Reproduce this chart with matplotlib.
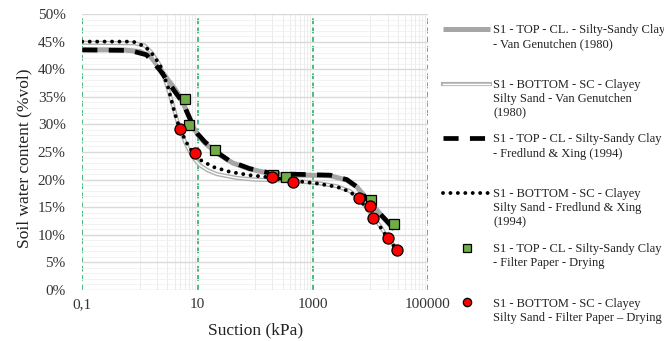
import numpy as np
import matplotlib
matplotlib.use("Agg")
from matplotlib import pyplot as plt
from matplotlib.lines import Line2D
import matplotlib.patheffects as pe
from matplotlib.ticker import FixedLocator, FixedFormatter, FuncFormatter, NullFormatter

plt.rcParams['font.family'] = ['Liberation Serif', 'DejaVu Serif']

# Van Genuchten / Fredlund & Xing curves (suction kPa, theta %vol)
top_vg_s = [0.1, 0.5, 1.0, 1.5, 2.2, 3.1, 4.2, 5.0, 6.0, 7.4, 8.4, 10, 13.5, 21.5, 41,
            81, 181, 404, 900, 2000, 3900, 5800, 8100, 12900, 19300, 26000]
top_vg_t = [43.5, 43.5, 43.2, 42.4, 40.2, 38.0, 36.2, 34.9, 33.2, 31.0, 29.6, 28.2, 26.6,
            24.8, 23.0, 21.9, 21.1, 20.8, 20.8, 20.7, 19.9, 18.7, 16.9, 14.5, 12.4, 11.0]

bot_vg_s = [0.1, 0.8, 1.2, 1.6, 2.2, 3.0, 3.8, 4.4, 5.0, 6.2, 7.4, 9.0, 11, 15, 21.5,
            48, 100, 400, 1170, 2610, 4440, 6630, 9880, 14700, 22000, 30300]
bot_vg_t = [44.8, 44.7, 44.3, 43.0, 40.8, 36.8, 33.2, 30.8, 29.0, 26.6, 25.0, 23.6, 22.6,
            21.7, 21.0, 20.3, 20.0, 19.8, 19.4, 18.8, 17.9, 16.4, 14.0, 11.6, 8.8, 7.3]

top_fx_s = [0.1, 0.67, 1.3, 2.2, 3.1, 4.0, 5.0, 6.2, 7.4, 8.4, 10, 13.5, 21.5, 37, 80,
            180, 400, 900, 2000, 3900, 5800, 8100, 12900, 19300, 24000]
top_fx_t = [43.5, 43.4, 42.6, 39.9, 37.7, 36.0, 34.6, 32.8, 31.0, 29.6, 28.3, 26.8, 25.0,
            23.3, 22.0, 21.2, 21.0, 20.9, 20.8, 20.0, 18.7, 16.8, 14.4, 12.5, 11.4]

bot_fx_s = [0.1, 0.76, 1.23, 1.6, 2.23, 3.07, 3.76, 4.35, 5.0, 6.2, 7.4, 9.1, 11, 18.6,
            36.6, 81, 181, 404, 1170, 2610, 4440, 6630, 9880, 14700, 22000, 30300]
bot_fx_t = [45.0, 45.0, 44.1, 42.9, 40.8, 36.8, 33.2, 30.8, 29.2, 27.0, 25.6, 24.6, 23.6,
            22.3, 21.4, 20.8, 20.4, 19.9, 19.3, 18.7, 17.8, 16.3, 13.9, 11.5, 8.7, 7.2]

# filter paper measurements
top_fp_s = [6.1, 7.1, 20, 204, 343, 10200, 25700]
top_fp_t = [34.6, 29.9, 25.4, 20.8, 20.5, 16.3, 12.0]
bot_fp_s = [5.0, 9.1, 200, 457, 6300, 9800, 11000, 20000, 29500]
bot_fp_t = [29.2, 24.8, 20.4, 19.6, 16.7, 15.2, 13.0, 9.4, 7.2]

x_ticks = [0.1, 10, 1000, 100000]
x_tick_labels = ["0,1", "10", "1000", "100000"]

labels = [
    "S1 - TOP - CL. - Silty-Sandy Clay\n- Van Genutchen (1980)",
    "S1 - BOTTOM - SC - Clayey\nSilty Sand - Van Genutchen\n(1980)",
    "S1 - TOP - CL - Silty-Sandy Clay\n- Fredlund & Xing (1994)",
    "S1 - BOTTOM - SC - Clayey\nSilty Sand - Fredlund & Xing\n(1994)",
    "S1 - TOP - CL - Silty-Sandy Clay\n- Filter Paper - Drying",
    "S1 - BOTTOM - SC - Clayey\nSilty Sand - Filter Paper \u2013 Drying",
]

W, H = 664, 341
fig = plt.figure(figsize=(W / 100, H / 100), dpi=100)
ax = fig.add_axes([82.3 / W, 1 - 290 / H, (428 - 82.3) / W, (290 - 14) / H])

gray = '#a6a6a6'
vg_top_style = dict(color=gray, lw=3.6, solid_capstyle='butt')
vg_bot_style = dict(color='white', lw=1.0,
                    path_effects=[pe.Stroke(linewidth=3.0, foreground='#b0b0b0'), pe.Normal()])
fx_top_style = dict(color='black', lw=3.4, linestyle=(0, (3.2, 2.4)), dash_capstyle='butt')
fx_bot_style = dict(color='black', lw=2.8, linestyle=(0, (0.01, 1.9)), dash_capstyle='round')
sq_style = dict(marker='s', ms=7.5, mfc='#70ad47', mec='black', mew=0.9, ls='none')
ci_style = dict(marker='o', ms=8, mfc='#ff0000', mec='black', mew=0.9, ls='none')

ax.plot(top_vg_s, top_vg_t, zorder=3, **vg_top_style)
ax.plot(bot_vg_s, bot_vg_t, zorder=3, **vg_bot_style)
ax.plot(top_fx_s, top_fx_t, zorder=4, **fx_top_style)
ax.plot(bot_fx_s, bot_fx_t, zorder=4, **fx_bot_style)
ax.plot(top_fp_s, top_fp_t, zorder=5, **sq_style)
ax.plot(bot_fp_s, bot_fp_t, zorder=6, **ci_style)

ax.set_xscale('log')
ax.set_xlim(0.1, 100000)
ax.set_ylim(0, 50)

# grid: major green dashed verticals, light gray minor
ax.xaxis.set_major_locator(FixedLocator(x_ticks))
ax.xaxis.set_major_formatter(FixedFormatter(x_tick_labels))
minor_x = [k * 10 ** e for e in (0, 2, 4) for k in range(1, 10)]
ax.xaxis.set_minor_locator(FixedLocator(minor_x))
ax.xaxis.set_minor_formatter(NullFormatter())
ax.yaxis.set_major_locator(FixedLocator(np.arange(0, 51, 5)))
ax.yaxis.set_minor_locator(FixedLocator(np.arange(0, 51, 1)))
ax.yaxis.set_major_formatter(FuncFormatter(lambda v, p: f"{v:.0f}%"))
ax.yaxis.set_minor_formatter(NullFormatter())

ax.grid(True, which='major', axis='x', color='#2bb06a', lw=1.2, linestyle=(0, (3.5, 2)), zorder=1)
ax.grid(True, which='minor', axis='x', color='#ececec', lw=0.7, zorder=0)
ax.grid(True, which='major', axis='y', color='#d9d9d9', lw=1.0, zorder=0)
ax.grid(True, which='minor', axis='y', color='#f0f0f0', lw=0.6, zorder=0)
ax.set_axisbelow(True)

for s in ax.spines.values():
    s.set_visible(False)
ax.tick_params(which='both', length=0)
ax.tick_params(axis='x', labelsize=11, pad=6)
ax.tick_params(axis='y', labelsize=11, pad=12)
for lab in ax.get_xticklabels() + ax.get_yticklabels():
    lab.set_color('#333333')

ax.set_xlabel("Suction (kPa)", fontsize=12.5, color='#222222')
ax.xaxis.set_label_coords(0.5, -0.118)
ax.set_ylabel("Soil water content (%vol)", fontsize=12.5, color='#222222')
ax.yaxis.set_label_coords(-0.145, 0.478)

# legend drawn by hand so every entry keeps the same spacing
styles = [vg_top_style, vg_bot_style, fx_top_style, fx_bot_style, sq_style, ci_style]
base0, step, line_h = 33, 54.7, 14.3
for i, (lab, st) in enumerate(zip(labels, styles)):
    b = base0 + i * step
    yc = 1 - (b - 4.2) / H
    if i < 4:
        ln = Line2D([443 / W, 490 / W], [yc, yc], transform=fig.transFigure, **st)
    else:
        ln = Line2D([467 / W], [yc], transform=fig.transFigure, **dict(st, ms=6))
    fig.add_artist(ln)
    for k, txt in enumerate(lab.split("\n")):
        fig.text(493 / W, 1 - (b + k * line_h) / H, txt, fontsize=9,
                 va='baseline', ha='left', color='#222222')

fig.savefig("out.png", dpi=100)
